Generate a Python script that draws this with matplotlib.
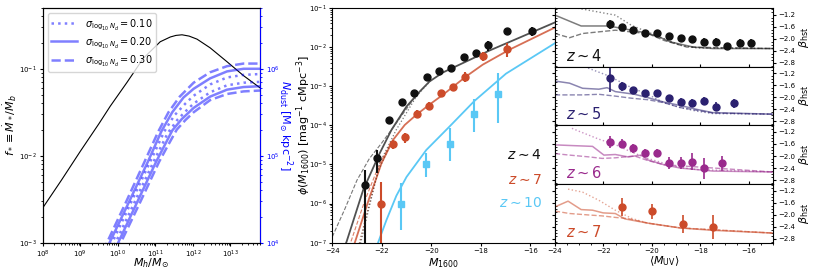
import matplotlib.pyplot as plt
import numpy as np
from matplotlib.ticker import AutoMinorLocator

plt.rcParams['font.size'] = 7
plt.rcParams['xtick.labelsize'] = 5
plt.rcParams['ytick.labelsize'] = 5
plt.rcParams['xtick.major.size'] = 2.5
plt.rcParams['ytick.major.size'] = 2.5
plt.rcParams['xtick.minor.size'] = 1.5
plt.rcParams['ytick.minor.size'] = 1.5
plt.rcParams['xtick.major.pad'] = 1.5
plt.rcParams['ytick.major.pad'] = 1.5
plt.rcParams['mathtext.fontset'] = 'dejavusans'

# ---------------- panel 1: f_star and dust surface density ----------------
fstar_logM = [8.0, 8.5, 9.0, 9.5, 9.8, 10.24, 10.68, 11.13, 11.4, 11.55, 11.71, 11.9, 12.11, 12.46, 12.91, 13.35, 13.79]
fstar_logf = [-2.60, -2.28, -1.95, -1.63, -1.43, -1.16, -0.88, -0.69, -0.635, -0.617, -0.61, -0.625, -0.66, -0.76, -0.92, -1.08, -1.22]

# dust curves (log Mh, log N_dust) for upper / lower envelope of each sigma
dust_up_030_M = [9.6, 9.71, 10.2, 10.7, 11.08, 11.35, 11.65, 12.02, 12.46, 12.91, 13.35, 13.8]
dust_up_030_N = [3.9, 4.0, 4.45, 4.92, 5.28, 5.50, 5.68, 5.84, 5.96, 6.03, 6.06, 6.06]
dust_up_020_M = [9.68, 9.78, 10.3, 10.8, 11.16, 11.45, 11.75, 12.02, 12.46, 12.91, 13.35, 13.8]
dust_up_020_N = [3.9, 4.0, 4.47, 4.93, 5.28, 5.50, 5.67, 5.77, 5.89, 5.97, 6.0, 6.0]
dust_up_010_M = [9.75, 9.85, 10.35, 10.85, 11.24, 11.5, 11.8, 12.02, 12.46, 12.91, 13.35, 13.8]
dust_up_010_N = [3.9, 4.0, 4.46, 4.92, 5.28, 5.46, 5.60, 5.69, 5.82, 5.90, 5.93, 5.94]
dust_lo_010_M = [9.84, 9.94, 10.45, 10.95, 11.33, 11.6, 11.85, 12.02, 12.46, 12.91, 13.35, 13.8]
dust_lo_010_N = [3.9, 4.0, 4.47, 4.93, 5.26, 5.42, 5.53, 5.60, 5.73, 5.81, 5.84, 5.85]
dust_lo_020_M = [9.91, 10.01, 10.52, 11.02, 11.45, 11.7, 12.02, 12.46, 12.91, 13.35, 13.8]
dust_lo_020_N = [3.9, 4.0, 4.47, 4.93, 5.29, 5.42, 5.55, 5.68, 5.76, 5.79, 5.80]
dust_lo_030_M = [9.98, 10.08, 10.6, 11.1, 11.35, 11.57, 11.8, 12.02, 12.46, 12.91, 13.35, 13.8]
dust_lo_030_N = [3.9, 4.0, 4.47, 4.93, 5.13, 5.30, 5.41, 5.50, 5.64, 5.71, 5.74, 5.75]
sigma_labels = ['0.10', '0.20', '0.30']

# ---------------- panel 2: UV luminosity functions ----------------
z4_M = [-22.69, -22.19, -21.69, -21.19, -20.69, -20.19, -19.69, -19.19, -18.69, -18.19, -17.69, -16.94, -15.94]
z4_phi = [3.0e-6, 1.5e-5, 1.35e-4, 4.0e-4, 6.8e-4, 1.7e-3, 2.5e-3, 3.0e-3, 5.5e-3, 7.0e-3, 1.1e-2, 2.5e-2, 2.6e-2]
z4_lo = [1e-9, 6e-6, 1.15e-4, 3.6e-4, 6.3e-4, 1.6e-3, 2.35e-3, 2.8e-3, 5.1e-3, 6.5e-3, 8e-3, 2.3e-2, 1.9e-2]
z4_hi = [7e-6, 2.4e-5, 1.6e-4, 4.4e-4, 7.3e-4, 1.8e-3, 2.65e-3, 3.2e-3, 5.9e-3, 7.5e-3, 1.45e-2, 2.7e-2, 3.3e-2]

z7_M = [-22.04, -21.54, -21.07, -20.59, -20.11, -19.62, -19.14, -18.64, -17.92, -16.95]
z7_phi = [1.0e-6, 3.3e-5, 5.0e-5, 2.0e-4, 3.2e-4, 6.5e-4, 9.3e-4, 1.75e-3, 6.0e-3, 8.7e-3]
z7_lo = [1e-9, 2.5e-5, 3.6e-5, 1.6e-4, 2.6e-4, 5.5e-4, 7.5e-4, 1.3e-3, 4.5e-3, 5.5e-3]
z7_hi = [3.6e-6, 4.3e-5, 6.5e-5, 2.4e-4, 3.9e-4, 7.6e-4, 1.15e-3, 2.3e-3, 7.6e-3, 1.3e-2]

z10_M = [-21.21, -20.23, -19.25, -18.27, -17.29]
z10_phi = [1.0e-6, 1.0e-5, 3.4e-5, 1.9e-4, 6.3e-4]
z10_lo = [2.1e-7, 4.9e-6, 1.2e-5, 6.9e-5, 1.15e-4]
z10_hi = [3.3e-6, 2.0e-5, 8.5e-5, 4.7e-4, 2.2e-3]

z4_mod_M = [-23.5, -23.42, -22.75, -22.08, -21.61, -21.0, -20.47, -20.07, -19.53, -17.65, -15.0]
z4_mod_log = [-7.1, -6.97, -5.65, -4.71, -4.12, -3.52, -3.14, -2.88, -2.65, -2.09, -1.37]
z4_dash_M = [-24.0, -23.5, -23.0, -22.5, -22.0, -21.5, -21.0, -20.5]
z4_dash_log = [-6.85, -6.15, -5.40, -4.85, -4.45, -4.02, -3.58, -3.14]
z4_dot_M = [-22.9, -22.85, -22.08, -21.41, -20.6, -20.0]
z4_dot_log = [-7.1, -7.0, -4.96, -4.11, -3.26, -2.84]

z7_mod_M = [-23.15, -23.09, -22.5, -22.01, -21.54, -21.07, -20.6, -20.07, -19.53, -18.59, -17.92, -16.85, -15.0]
z7_mod_log = [-7.1, -7.0, -5.85, -4.97, -4.37, -3.99, -3.73, -3.47, -3.22, -2.75, -2.45, -2.07, -1.50]
z7_dash_M = [-23.35, -23.26, -22.7, -22.1, -21.6]
z7_dash_log = [-7.1, -7.0, -5.95, -5.0, -4.42]
z7_dot_M = [-22.95, -22.9, -22.5, -22.1, -21.7]
z7_dot_log = [-7.1, -7.0, -6.0, -5.1, -4.55]

z10_mod_M = [-22.2, -22.15, -21.81, -21.41, -21.0, -20.2, -19.26, -18.26, -16.98, -15.0]
z10_mod_log = [-7.1, -7.0, -6.42, -5.80, -5.32, -4.63, -4.03, -3.38, -2.68, -1.90]

# ---------------- panel 3: UV slopes ----------------
beta_rows = ['4', '5', '6', '7']
beta_colors = ['#111111', '#2b2170', '#9a2a8d', '#cc4b2a']

b4_M = [-21.74, -21.24, -20.76, -20.28, -19.79, -19.31, -18.81, -18.34, -17.84, -17.35, -16.88, -16.38, -15.9]
b4_beta = [-1.53, -1.61, -1.70, -1.80, -1.81, -1.90, -1.98, -2.0, -2.11, -2.11, -2.26, -2.14, -2.14]
b4_err = [0.15, 0.1, 0.1, 0.08, 0.08, 0.08, 0.1, 0.1, 0.12, 0.12, 0.12, 0.12, 0.12]
b5_M = [-21.74, -21.24, -20.76, -20.28, -19.79, -19.31, -18.81, -18.34, -17.84, -17.35, -16.6]
b5_beta = [-1.37, -1.63, -1.76, -1.87, -1.86, -2.03, -2.14, -2.19, -2.12, -2.31, -2.2]
b5_err = [0.45, 0.15, 0.1, 0.1, 0.1, 0.1, 0.13, 0.13, 0.13, 0.15, 0.15]
b6_M = [-21.74, -21.24, -20.76, -20.28, -19.79, -19.31, -18.81, -18.34, -17.84, -17.12]
b6_beta = [-1.55, -1.60, -1.74, -1.90, -1.90, -2.22, -2.24, -2.19, -2.40, -2.24]
b6_err = [0.2, 0.15, 0.15, 0.12, 0.12, 0.2, 0.2, 0.28, 0.35, 0.25]
b7_M = [-21.24, -20.0, -18.72, -17.48]
b7_beta = [-1.74, -1.88, -2.30, -2.42]
b7_err = [0.3, 0.25, 0.3, 0.4]

b4_sol_M = [-24, -22.92, -21.78, -20.3, -19.77, -19.23, -18.29, -17.48, -15]
b4_sol = [-1.22, -1.58, -1.58, -1.80, -1.92, -2.11, -2.28, -2.33, -2.33]
b4_dot_M = [-23.5, -22.99, -21.51, -20.84, -20.17, -19.5, -18.83, -18.15, -15]
b4_dot = [-0.9, -1.0, -1.22, -1.56, -1.78, -2.0, -2.22, -2.31, -2.33]
b4_das_M = [-24, -23.4, -22.86, -21.51, -20.71, -20.17, -19.5, -18.56, -15]
b4_das = [-1.83, -1.97, -1.83, -1.72, -1.79, -1.83, -2.06, -2.28, -2.33]

b5_sol_M = [-24, -23.4, -22.86, -22.19, -21.85, -21.51, -20.71, -20.17, -19.5, -18.83, -18.15, -17.48, -15]
b5_sol = [-1.46, -1.53, -1.70, -1.73, -1.68, -1.81, -1.90, -2.01, -2.16, -2.27, -2.40, -2.51, -2.56]
b5_dot_M = [-23.2, -22.86, -21.78, -20.84, -20.17, -19.5, -18.83, -18.15, -17.48, -15]
b5_dot = [-0.85, -0.96, -1.29, -1.68, -1.90, -2.18, -2.34, -2.46, -2.54, -2.56]
b5_das_M = [-24, -22.86, -22.19, -21.51, -20.84, -20.17, -19.5, -18.83, -17.48, -15]
b5_das = [-1.92, -1.92, -1.90, -1.96, -2.03, -2.08, -2.18, -2.34, -2.52, -2.56]

b6_sol_M = [-24, -23.4, -22.45, -21.98, -21.51, -20.98, -20.44, -20.17, -19.5, -18.83, -18.15, -17.48, -15]
b6_sol = [-1.63, -1.65, -1.68, -1.97, -1.95, -2.03, -1.97, -2.13, -2.29, -2.40, -2.45, -2.50, -2.53]
b6_dot_M = [-23.3, -23.0, -22.19, -21.51, -20.84, -20.17, -19.5, -18.83, -18.15, -15]
b6_dot = [-1.08, -1.18, -1.44, -1.62, -1.87, -2.08, -2.24, -2.38, -2.45, -2.53]
b6_das_M = [-24, -23.4, -22.59, -22.05, -21.51, -20.71, -20.17, -19.5, -15]
b6_das = [-1.92, -1.97, -2.03, -2.08, -2.06, -2.0, -2.15, -2.29, -2.53]

b7_sol_M = [-24, -23.46, -22.92, -22.45, -22.01, -21.51, -21.11, -20.17, -18.83, -17.48, -15]
b7_sol = [-1.74, -1.55, -1.83, -1.85, -1.94, -1.96, -2.14, -2.28, -2.44, -2.52, -2.61]
b7_dot_M = [-23.46, -22.86, -22.19, -21.51, -20.84, -20.17, -18.83, -15]
b7_dot = [-1.15, -1.25, -1.52, -1.85, -2.12, -2.28, -2.44, -2.61]
b7_das_M = [-24, -23.4, -22.59, -22.05, -21.51, -20.98, -20.17, -18.83, -15]
b7_das = [-1.88, -1.96, -2.01, -2.04, -2.09, -2.13, -2.28, -2.44, -2.61]

fig = plt.figure(figsize=(8.14, 2.73), dpi=100)
bottom, height = 0.111, 0.860
minus = lambda v, p: ('%g' % v).replace('-', '\u2212')

# ---- panel 1
ax1 = fig.add_axes([0.0525, bottom, 0.267, height])
ax1.plot(10**np.array(fstar_logM), 10**np.array(fstar_logf), color='k', lw=0.8)
ax1.set_xscale('log')
ax1.set_yscale('log')
ax1.set_xlim(1e8, 10**13.79)
ax1.set_ylim(1e-3, 0.5)
ax1.set_xticks([1e8, 1e9, 1e10, 1e11, 1e12, 1e13])
ax1.set_xlabel(r'$M_h/M_{\odot}$', fontsize=8, va='center')
ax1.xaxis.set_label_coords(0.5, -0.088)
ax1.set_ylabel(r'$f_* \equiv \dot{M}_*/\dot{M}_b$', fontsize=8, va='center')
ax1.yaxis.set_label_coords(-0.150, 0.5)

ax1b = ax1.twinx()
dust_kw = dict(color='b', alpha=0.5, lw=1.8)
styles = [':', '-', '--']
pairs = [
    ((dust_up_010_M, dust_up_010_N), (dust_lo_010_M, dust_lo_010_N)),
    ((dust_up_020_M, dust_up_020_N), (dust_lo_020_M, dust_lo_020_N)),
    ((dust_up_030_M, dust_up_030_N), (dust_lo_030_M, dust_lo_030_N)),
]
for ls, lab, (up, lo) in zip(styles, sigma_labels, pairs):
    ax1b.plot(10**np.array(up[0]), 10**np.array(up[1]), ls=ls, label=r'$\sigma_{\log_{10} N_d} = %s$' % lab, **dust_kw)
    ax1b.plot(10**np.array(lo[0]), 10**np.array(lo[1]), ls=ls, **dust_kw)
ax1b.set_yscale('log')
ax1b.set_ylim(1e4, 10**6.7)
ax1b.set_xlim(1e8, 10**13.79)
ax1b.spines['right'].set_color('b')
ax1b.tick_params(axis='y', which='both', colors='b')
ax1b.set_ylabel(r'$N_{\rm dust}$ [M$_{\odot}$ kpc$^{-2}$]', color='b', rotation=270, fontsize=8,
                va='center', ha='center')
ax1b.yaxis.set_label_coords(1.115, 0.5)
ax1b.legend(loc='upper left', fontsize=7, handlelength=2.6, labelspacing=0.35, borderpad=0.4)

# ---- panel 2
ax2 = fig.add_axes([0.4082, bottom, 0.2736, height])
ax2.plot(z4_mod_M, 10**np.array(z4_mod_log), color='#333333', alpha=0.85, lw=1.3)
ax2.plot(z4_dash_M, 10**np.array(z4_dash_log), color='#555555', ls='--', lw=0.8, alpha=0.8)
ax2.plot(z4_dot_M, 10**np.array(z4_dot_log), color='#555555', ls=':', lw=0.9, alpha=0.8)
ax2.plot(z7_mod_M, 10**np.array(z7_mod_log), color='#cc4b2a', alpha=0.8, lw=1.3)
ax2.plot(z7_dash_M, 10**np.array(z7_dash_log), color='#cc4b2a', ls='--', lw=0.8, alpha=0.7)
ax2.plot(z7_dot_M, 10**np.array(z7_dot_log), color='#7a3520', ls=':', lw=0.9, alpha=0.8)
ax2.plot(z10_mod_M, 10**np.array(z10_mod_log), color='#5ac8f5', lw=1.3)

for M, phi, lo, hi, col, mk in [
    (z4_M, z4_phi, z4_lo, z4_hi, '#111111', 'o'),
    (z7_M, z7_phi, z7_lo, z7_hi, '#cc4b2a', 'o'),
    (z10_M, z10_phi, z10_lo, z10_hi, '#5ac8f5', 's'),
]:
    phi = np.array(phi)
    yerr = [phi - np.array(lo), np.array(hi) - phi]
    ax2.errorbar(M, phi, yerr=yerr, fmt=mk, color=col, ms=5, elinewidth=1.5, capsize=0)
ax2.set_yscale('log')
ax2.set_xlim(-24, -15)
ax2.set_ylim(1e-7, 1e-1)
ax2.set_xticks([-24, -22, -20, -18, -16])
ax2.xaxis.set_major_formatter(plt.FuncFormatter(minus))
ax2.set_xlabel(r'$M_{1600}$', fontsize=8, va='center')
ax2.xaxis.set_label_coords(0.5, -0.085)
ax2.set_ylabel(r'$\phi(M_{1600})$ [mag$^{-1}$ cMpc$^{-3}$]', fontsize=8, va='center')
ax2.yaxis.set_label_coords(-0.128, 0.5)
for txt, col, yy in [('4', '#111111', 0.375), ('7', '#cc4b2a', 0.265), ('10', '#5ac8f5', 0.17)]:
    ax2.text(0.94, yy, r'$z\sim$' + txt, color=col, fontsize=10, ha='right', va='center',
             transform=ax2.transAxes)

# ---- panel 3
rows = [
    (b4_M, b4_beta, b4_err, (b4_sol_M, b4_sol), (b4_dot_M, b4_dot), (b4_das_M, b4_das)),
    (b5_M, b5_beta, b5_err, (b5_sol_M, b5_sol), (b5_dot_M, b5_dot), (b5_das_M, b5_das)),
    (b6_M, b6_beta, b6_err, (b6_sol_M, b6_sol), (b6_dot_M, b6_dot), (b6_das_M, b6_das)),
    (b7_M, b7_beta, b7_err, (b7_sol_M, b7_sol), (b7_dot_M, b7_dot), (b7_das_M, b7_das)),
]
row_h = height / 4
for i, (M, b, e, sol, dot, das) in enumerate(rows):
    col = beta_colors[i]
    ax = fig.add_axes([0.6818, bottom + height - (i + 1) * row_h, 0.2678, row_h])
    ax.plot(*sol, color=col, alpha=0.55, lw=1.1)
    ax.plot(*dot, color=col, alpha=0.5, lw=1.0, ls=':')
    ax.plot(*das, color=col, alpha=0.55, lw=1.0, ls='--')
    ax.errorbar(M, b, yerr=e, fmt='o', color=col, ms=5, elinewidth=1.2, capsize=0)
    ax.set_xlim(-24, -15)
    ax.set_ylim(-2.93, -0.98)
    ax.set_yticks([-1.2, -1.6, -2.0, -2.4, -2.8])
    ax.yaxis.set_minor_locator(AutoMinorLocator(4))
    ax.xaxis.set_minor_locator(AutoMinorLocator(4))
    ax.yaxis.tick_right()
    ax.yaxis.set_label_position('right')
    ax.tick_params(axis='y', which='both', left=True, right=True, direction='in')
    ax.tick_params(axis='y', which='major', direction='out')
    ax.set_ylabel(r'$\beta_{\rm hst}$', fontsize=8, labelpad=1)
    ax.set_xticks([-24, -22, -20, -18, -16])
    ax.yaxis.set_major_formatter(plt.FuncFormatter(lambda v, p: ('%.1f' % v).replace('-', '\u2212')))
    ax.xaxis.set_major_formatter(plt.FuncFormatter(minus))
    if i < 3:
        ax.tick_params(axis='x', labelbottom=False, direction='in')
    ax.text(0.05, 0.1, r'$z\sim$' + beta_rows[i], color=col, fontsize=10.5,
            transform=ax.transAxes, ha='left', va='baseline')
ax.set_xlabel(r'$\langle M_{\rm UV} \rangle$', fontsize=8, va='center')
ax.xaxis.set_label_coords(0.5, -0.32)

fig.savefig('out.png', dpi=100)
